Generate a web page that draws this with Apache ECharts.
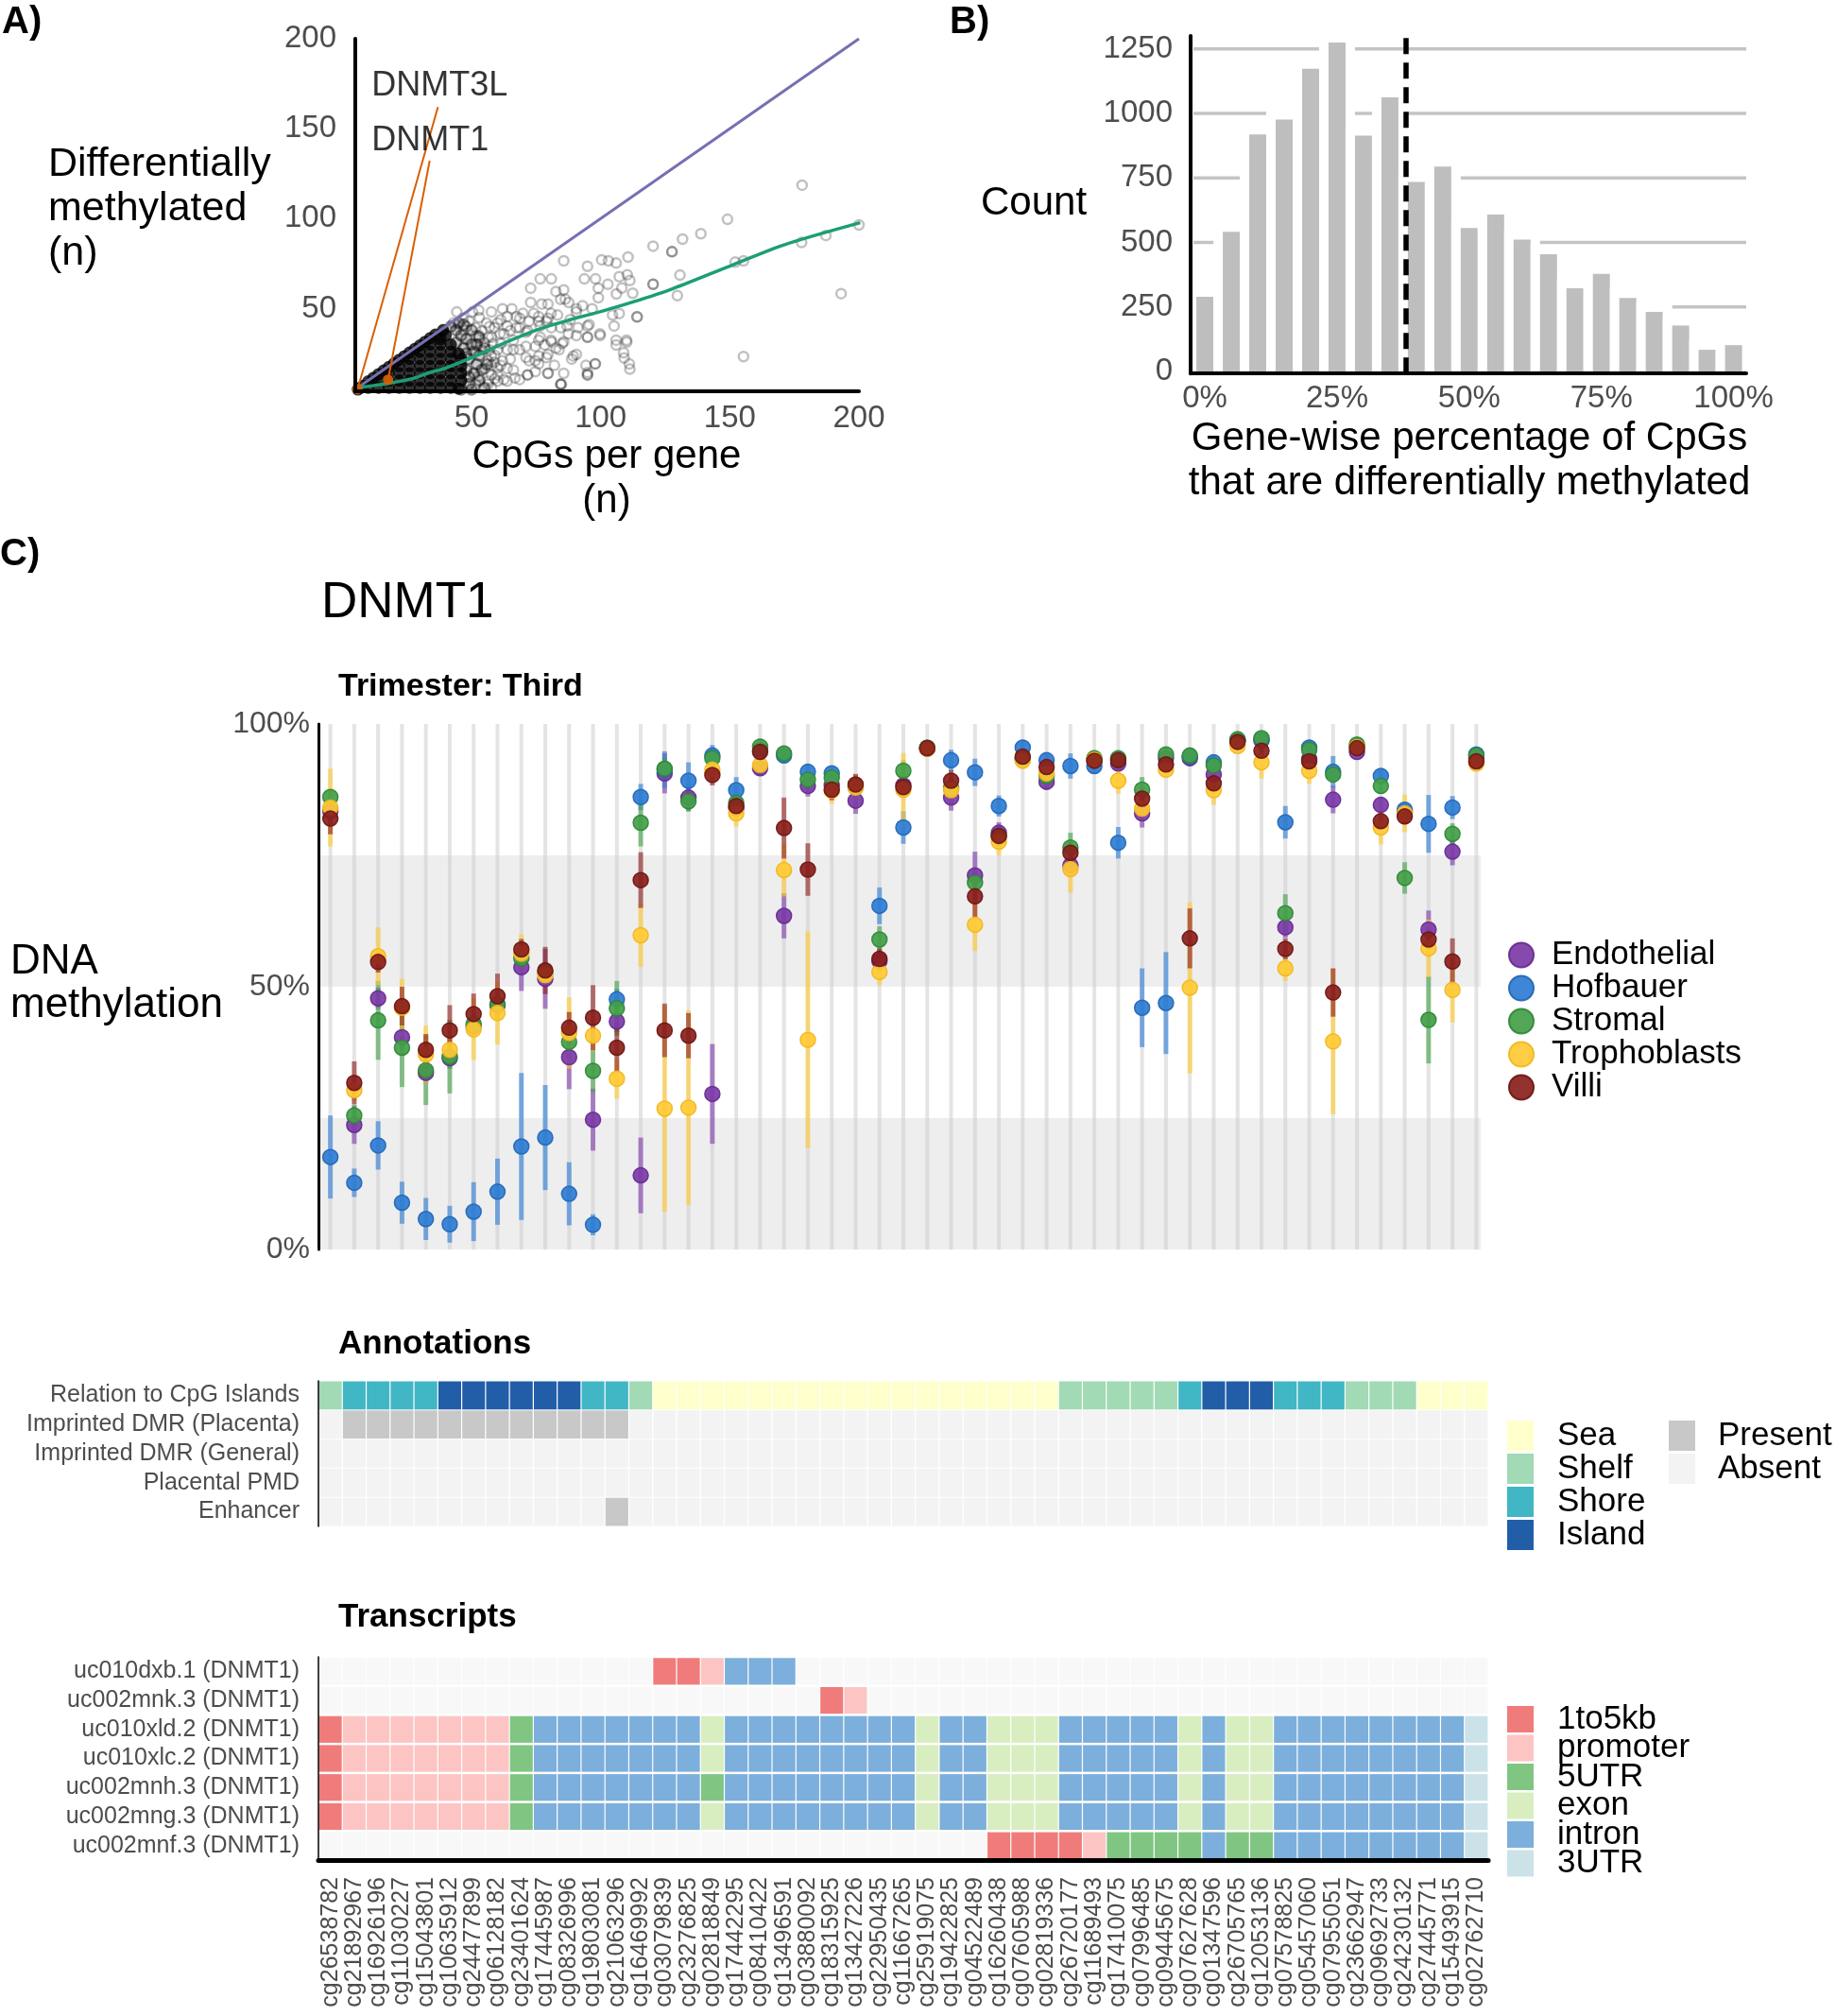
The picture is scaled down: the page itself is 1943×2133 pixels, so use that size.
<!DOCTYPE html>
<html><head><meta charset="utf-8">
<script src="https://cdn.jsdelivr.net/npm/echarts/dist/echarts.min.js"></script>
<style>html,body{margin:0;padding:0;background:#fff}#c{width:1943px;height:2133px}</style>
</head><body><div id="c"></div><script>
// ---------------- Panel A data ----------------
const cloudCore = [[6,5],[8,7],[12,11.5],[16,15.5],[20,19.5],[24,23.5],[28,27.5],[32,31.5],[36,35.5],[39,38],
[7,6],[10,6],[14,6],[18,6],[22,6],[26,6],[30,6],[34,6],[38,6],[42,6],[45,5.5],
[10,9.5],[14,10],[18,10],[22,10],[26,10],[30,10],[34,10],[38,10],[42,10],[46,10],
[14,13.5],[18,14],[22,14],[26,14],[30,14],[34,14],[38,14],[42,14],[46,14],
[18,17.5],[22,18],[26,18],[30,18],[34,18],[38,18],[42,18],[46,18],
[22,21.5],[26,22],[30,22],[34,22],[38,22],[42,22],[46,22],
[26,25.5],[30,26],[34,26],[38,26],[42,26],[45,25],
[30,29.5],[34,30],[38,30],[42,30],
[34,33.5],[38,33],[40,35]];
const cloudHalo = [[44,38],[46,35],[48,33],[50,30],[47,28],[51,26],[49,22],[53,24],[52,19],[48,16],[51,14],[54,16],[53,10],[49,8],[46,5],[50,5],[55,6],[45,42],[42,40],[47,41],[52,30],[55,28],[56,19],[48,25],[49,12],[44,31],[50,38],[53,34]];
const cloudSparse = [[85.7,76.5],[94.9,73.5],[100.4,77.1],
[76.6,66.5],[80.9,66.5],[93.7,66.5],[98,66.5],[99.1,61.3],
[72.9,61.3],[82.7,59.5],[85.7,60.4],[99.1,56],[86.3,55.2],
[72.9,53.4],[77.2,52.5],[79.6,52.5],[84.5,55.1],[87.6,53.4],[93,51.6],[96.7,49.9],[90.6,48.1],[90.6,49.9],
[52.8,49],[57.7,48.1],[62,49.9],[65.6,49.9],[63.8,45.5],[68.7,44.6],[72.3,42.9],[76,45.5],[79.6,44.6],[83.3,46.4],
[67.4,45.5],[69.9,47.3],[74.1,47.3],[76,42.9],[79,42.9],[80.8,47.3],[84.5,39.4],[88.2,43.8],[91.2,39.4],[94.9,40.3],
[99.7,35.9],[94.9,34.1],[87.5,35.9],[80.8,32.4],[78.4,29.8],[76.6,34.1],[74.7,28.9],[71.7,37.7],[68.6,39.4],[65,37.7],
[61.3,43.8],[58.9,39.4],[55.8,42],[52.8,35],[57.7,34.1],[62.5,35.9],[66.2,32.4],[68.6,27.1],[63.8,27.1],[60.1,27.1],
[65,21.9],[71.1,22.8],[74.7,21],[79,22.8],[82.7,28],[85.1,30.6],[90.6,24.5],[88.8,21.9],[94.3,18.4],[97.9,19.3],
[85.7,14],[79.6,14],[71.7,13.1],[66.2,15.8],[61.3,18.4],[56.4,21],[57.7,13.1],[62.5,10.5],[68.6,10.5],[74.7,14.9],
[84.5,7.9],[94.9,13.1],[52.8,12.3],[56.4,7.9],
[76.6,40.3],[80.9,39.4],[87,40.3],[95.5,41.1],[104.6,46.4],[105.2,40.3],
[60.1,42],[63.8,40.3],[67.4,39.4],[71.1,36.8],[76,32.4],[80.9,31.5],[85.7,31.5],[90.6,35],[94.9,34.1],[99.8,35],[106,32.4],[110,32.4],
[61.3,30.6],[66.2,27.1],[71.1,28.9],[76,23.6],[79.6,24.5],[83.9,27.1],[89.4,23.6],
[72.3,21],[76,19.2],[82.1,18.4],[97.9,19.2],[94.9,13.1],[108.9,25.4],[111.1,19.2],
[63.8,16.6],[66.8,11.4],[71.7,13.1],[79.6,14],[84.8,7.9],
[57.7,18.4],[60.1,13.1],[63.8,9.6],[56.5,9.6],
[43,42],[46.7,44.6],[49.1,42.9],[51.6,39.4],[54,37.6],[56.5,34.1],[58.3,30.6],[54,27.1],[57.7,23.6],[58.9,20.1],[55.2,16.6],[60.1,9.6],[51.6,7.9],[57.7,6.1],[50.4,48.1],[44.3,48.1],
[48,40],[52,35],[55,31],[57,27],[59,24],[60,17],[59,11],[62,21],[61,36],[57,40],[53,45],[47,38],
[178,118.6],[149.1,99.6],[138.8,91.6],[131.7,88.6],[127.6,81.6],[127.6,81.6],[120.3,84.7],[110.6,78.6],[106,75.3],[103,76.5],
[107.2,67.7],[110.3,68.8],[111.3,65.6],[102.8,63.5],[108.2,61.4],[106.1,58.1],[112.4,58.5],
[120.3,63.5],[120.3,63.5],[130.7,68.6],[129.7,57.2],[152.1,75.8],[155.3,76.5],[177.8,86.7],[187.2,90.6],[200,96.5],[193.1,58.3],
[155.3,23.3],[114.1,45.4],[114.1,45.4],[107.2,47.2],[106,29.7],[110.1,31.3],[109.1,22.5],[111.3,16.3],[94.9,14.4],[84.6,7.9]];
const identityLine = [[5,5],[200,200]];
const loessFit = [[5,5.8],[10,6.8],[17,8.2],[27,11],[34,14.5],[39.4,16.6],[51.6,23.6],[63.8,31.5],[76,38.5],[88.2,43.8],[100.4,48.5],[112.6,53.7],[127.8,61],[151.5,74.5],[171,85.4],[200.5,97.7]];
const highlightGenes = ['DNMT3L','DNMT1'];
const highlightPoints = [[5.9,5.2],[17.7,10.5]];
const highlightLabelAt = [[11.1,173.8],[11.1,143.4]];
const highlightSegEnd = [[37,162],[33.8,132.2]];

// ---------------- Panel B data ----------------
const histBins = [0,5,10,15,20,25,30,35,40,45,50,55,60,65,70,75,80,85,90,95,100];
const histCounts = [289,541,918,976,1173,1274,914,1062,734,794,556,608,511,454,322,378,285,231,178,84,102];
const histGridLevels = [250,500,750,1000,1250];
const dmThreshold = [38];

// ---------------- Panel C data ----------------
const cpgIds = ['cg26538782','cg21892967','cg16926196','cg11030227','cg15043801','cg10635912','cg24477899','cg06128182','cg23401624','cg17445987','cg08326996','cg19803081','cg21063296','cg16469992','cg03079839','cg23276825','cg02818849','cg17442295','cg08410422','cg13496591','cg03880092','cg18315925','cg13427226','cg22950435','cg11667265','cg25919075','cg19422825','cg04522489','cg16260438','cg07605988','cg02819336','cg26720177','cg11689493','cg17410075','cg07996485','cg09445675','cg07627628','cg01347596','cg26705765','cg12053136','cg07578825','cg05457060','cg07955051','cg23662947','cg09692733','cg24230132','cg27445771','cg15493915','cg02762710'];
const cellTypes = ['Endothelial','Hofbauer','Stromal','Trophoblasts','Villi'];
const endothelial = [83.4,23.7,47.8,40.4,33.6,36.4,42.5,46.5,53.7,51.5,36.6,24.7,43.4,14.1,90.6,86.0,29.6,84.0,91.6,63.5,88.2,88.3,85.4,54.9,88.3,95.3,86.0,71.2,79.3,93.5,89.0,73.1,93.0,92.5,83.0,93.5,93.5,90.4,96.8,96.9,61.3,93.3,85.6,94.7,84.6,83.3,60.9,75.7,93.5];
const endothelialSd = [2,3.6,2,2,2,2,2,2,4.5,5.7,6.1,5.9,2,7.2,3.8,2.5,9.5,2,1.5,4.3,2,2,2.5,2,2,1,2.5,4.5,2,1.5,1.5,2,1.5,1.5,2.7,1.5,1.5,1.5,1,1,2,1.5,2.6,1,1.5,1.5,3.6,2.6,1];
const hofbauer = [17.6,12.7,19.8,8.9,5.8,4.8,7.2,11.0,19.6,21.3,10.6,4.7,47.6,86.1,91.3,89.2,94.0,87.4,95.0,94.0,90.9,90.6,88.0,65.4,80.3,95.4,93.1,90.8,84.4,95.5,93.1,92.0,92.0,77.4,46.0,46.9,93.8,92.7,96.9,97.0,81.3,95.5,90.9,95.9,90.1,83.7,81.0,84.1,94.2];
const hofbauerSd = [7.9,2.7,4.6,4,4,3.5,5.6,6.3,14,10,6,2,2,2.5,3.5,3.5,2,2.5,1.5,1.5,1.5,1.5,1.5,3.5,3.1,1,2,2.6,2,1.5,1.5,2.4,1.5,3,7.5,9.7,1.5,1.5,1,1,3.1,1.5,3,1,1.5,1.5,5.5,2.2,1];
const stromal = [86.1,25.5,43.6,38.4,34.1,36.7,42.9,46.7,55.4,52.8,39.5,34.0,45.9,81.2,91.5,85.3,93.5,85.0,95.7,94.4,89.4,89.8,88.2,59.0,91.1,95.5,87.8,69.8,78.6,93.3,90.1,76.5,93.5,93.5,87.5,94.2,94.0,92.1,97.1,97.3,64.0,95.1,90.4,96.1,88.2,70.7,43.7,79.1,94.0];
const stromalSd = [1.5,2,7.5,7.5,6.6,7,2,2,2,2,3,4,5.2,4.5,2,2,2,2,1.5,1.5,1.5,1.5,2,2.5,2,1,2,2,2,1.5,1.5,2.8,1.5,1.5,2.4,1.5,1.5,1.5,1,1,3.6,1.5,1.5,1,1.5,3,8.3,2,1];
const trophoblasts = [84.1,30.3,55.8,46.0,37.1,38.0,41.9,45.0,56.3,52.2,41.2,40.7,32.5,59.8,26.8,27.0,91.3,83.0,92.2,72.2,39.9,87.3,87.9,52.8,87.5,95.3,87.4,61.8,77.6,93.0,90.6,72.4,93.2,89.2,83.9,91.3,49.8,87.4,95.8,92.7,53.5,91.1,39.6,95.6,80.3,83.0,57.3,49.4,92.5];
const trophoblastsSd = [7.4,2,5.5,5.5,5.5,3,5.9,6,3.7,2,6.8,3,3.8,6,19.6,18.5,2,2.5,1.5,5,20.6,2.5,2.5,2.5,7,1,2,5,2.6,1.5,2,4.5,1.5,2.5,2,1.5,16.3,2.8,1,3.1,2.4,2.5,13.9,1,3.2,3.6,5.5,6.2,1];
const villi = [82.0,31.7,54.7,46.3,38.0,41.7,44.8,48.2,57.1,53.1,42.2,44.1,38.4,70.3,41.7,40.7,90.3,84.4,94.7,80.2,72.3,87.5,88.5,55.3,88.0,95.4,89.2,67.2,78.7,93.8,91.8,75.5,93.0,93.1,85.8,92.3,59.2,88.7,96.6,94.9,57.2,92.9,48.9,95.4,81.5,82.4,59.0,54.8,92.9];
const villiSd = [3,4.1,2,3.7,3,4.8,3.9,4.3,2,4.5,3,6.2,4.6,5.3,5.1,4.3,2,2,1.5,5.8,5,2,2,2,2,1,2,4,2,1.5,1.5,2,1.5,1.5,2,1.5,5.7,1.5,1,1,2,1.5,4.6,1,1.5,1.5,2,4.4,1];
const methBands = [[0,25],[50,75]];

// ---------------- Annotation data ----------------
const annRows = ['Relation to CpG Islands','Imprinted DMR (Placenta)','Imprinted DMR (General)','Placental PMD','Enhancer'];
// a = Sea, h = Shelf, o = Shore, i = Island ; 1 = Present, 0 = Absent
const cpgRelation = 'h'+'oooo'+'iiiiii'+'oo'+'h'+'aaaaa'+'aaaaa'+'aaaaa'+'aa'+'hhhhh'+'o'+'iii'+'ooo'+'hhh'+'aaa';
const imprintedPlacenta = '0'+'111111111111'+'0'.repeat(36);
const imprintedGeneral = '0'.repeat(49);
const placentalPMD = '0'.repeat(49);
const enhancer = '0'.repeat(12)+'1'+'0'.repeat(36);

// ---------------- Transcript data ----------------
const txRows = ['uc010dxb.1 (DNMT1)','uc002mnk.3 (DNMT1)','uc010xld.2 (DNMT1)','uc010xlc.2 (DNMT1)','uc002mnh.3 (DNMT1)','uc002mng.3 (DNMT1)','uc002mnf.3 (DNMT1)'];
// K = 1to5kb, P = promoter, 5 = 5UTR, E = exon, I = intron, 3 = 3UTR, - = none
const tx_uc010dxb = '-'.repeat(14)+'KKPIII'+'-'.repeat(29);
const tx_uc002mnk = '-'.repeat(21)+'KP'+'-'.repeat(26);
const tx_uc010xld = 'K'+'PPPPPPP'+'5'+'IIIIIII'+'E'+'IIIIIIII'+'E'+'II'+'EEE'+'IIIII'+'E'+'I'+'EE'+'IIIIIIII'+'3';
const tx_uc010xlc = 'K'+'PPPPPPP'+'5'+'IIIIIII'+'E'+'IIIIIIII'+'E'+'II'+'EEE'+'IIIII'+'E'+'I'+'EE'+'IIIIIIII'+'3';
const tx_uc002mnh = 'K'+'PPPPPPP'+'5'+'IIIIIII'+'5'+'IIIIIIII'+'E'+'II'+'EEE'+'IIIII'+'E'+'I'+'EE'+'IIIIIIII'+'3';
const tx_uc002mng = 'K'+'PPPPPPP'+'5'+'IIIIIII'+'E'+'IIIIIIII'+'E'+'II'+'EEE'+'IIIII'+'E'+'I'+'EE'+'IIIIIIII'+'3';
const tx_uc002mnf = '-'.repeat(28)+'KKKK'+'P'+'5555'+'I'+'55'+'IIIIIIII'+'3';

// ---------------- styles ----------------
const FONT = '"Liberation Sans", Arial, Helvetica, sans-serif';
const GREY = '#4D4D4D';
const methColors = {Endothelial:'#7C3BA8', Hofbauer:'#2F7DD3', Stromal:'#43A048', Trophoblasts:'#FFCA35', Villi:'#8A1F1C'};
const methBorder = {Endothelial:'#652B8E', Hofbauer:'#2266B5', Stromal:'#2F8737', Trophoblasts:'#F2B61C', Villi:'#6E1612'};
const annColors = {a:'#FFFFCC', h:'#A1DAB4', o:'#41B6C4', i:'#225EA8', '1':'#C8C8C8', '0':'#F3F3F4'};
const txColors = {K:'#EF7C7B', P:'#FCC5C4', '5':'#80C682', E:'#D8EEC0', I:'#7CAFDB', '3':'#CBE2E9', '-':'#F8F8F8'};

const meanMap = {Endothelial:endothelial, Hofbauer:hofbauer, Stromal:stromal, Trophoblasts:trophoblasts, Villi:villi};
const sdMap = {Endothelial:endothelialSd, Hofbauer:hofbauerSd, Stromal:stromalSd, Trophoblasts:trophoblastsSd, Villi:villiSd};

function cellSeries(gIdx, rowStrings, colorMap, gapY) {
  const data = [], cols = [];
  rowStrings.forEach((s, r) => { for (let i = 0; i < s.length; i++) { data.push([i, r]); cols.push(colorMap[s[i]]); } });
  return {
    type:'custom', xAxisIndex:gIdx, yAxisIndex:gIdx, silent:true, z:2,
    encode:{x:0, y:1}, data: data,
    renderItem: function (params, api) {
      const c = api.coord([api.value(0), api.value(1)]);
      const s = api.size([1, 1]);
      return {type:'rect', shape:{x:c[0]-s[0]/2+0.6, y:c[1]-s[1]/2+gapY/2, width:s[0]-1.2, height:s[1]-gapY},
        style:{fill: cols[params.dataIndex]}};
    }
  };
}

const series = [];
// ---- Panel A ----
series.push({type:'scatter', xAxisIndex:0, yAxisIndex:0, data:cloudCore, symbolSize:13, silent:true, z:2,
  itemStyle:{color:'#000'}});
series.push({type:'scatter', xAxisIndex:0, yAxisIndex:0, data:cloudHalo, symbolSize:11, silent:true, z:2,
  itemStyle:{color:'rgba(0,0,0,0.25)', borderColor:'rgba(0,0,0,0.5)', borderWidth:2.5}});
series.push({type:'scatter', xAxisIndex:0, yAxisIndex:0, data:cloudSparse, symbolSize:10, silent:true, z:2,
  itemStyle:{color:'rgba(0,0,0,0)', borderColor:'rgba(0,0,0,0.3)', borderWidth:2.5}});
series.push({type:'line', xAxisIndex:0, yAxisIndex:0, data:identityLine, symbol:'none', silent:true, z:3,
  lineStyle:{color:'#7570B3', width:3}});
series.push({type:'line', xAxisIndex:0, yAxisIndex:0, data:loessFit, symbol:'none', smooth:0.3, silent:true, z:3,
  lineStyle:{color:'#1B9E77', width:3.5}});
highlightGenes.forEach((g, k) => {
  series.push({type:'line', xAxisIndex:0, yAxisIndex:0, data:[highlightPoints[k], highlightSegEnd[k]], symbol:'none', silent:true, z:4,
    lineStyle:{color:'#D95F02', width:2}});
});
series.push({type:'scatter', xAxisIndex:0, yAxisIndex:0, data:highlightPoints, symbolSize:11, silent:true, z:5,
  itemStyle:{color:'#D95F02', opacity:0.9}});
series.push({type:'scatter', xAxisIndex:0, yAxisIndex:0, silent:true, z:6, symbolSize:1,
  data: highlightLabelAt.map((p, k) => ({value:p, name:highlightGenes[k]})),
  itemStyle:{color:'rgba(0,0,0,0)'},
  label:{show:true, position:'right', distance:0, formatter:'{b}', fontSize:36, color:'#000', fontFamily:FONT}});

// ---- Panel B ----
series.push({type:'custom', xAxisIndex:1, yAxisIndex:1, silent:true, z:1,
  data: histGridLevels.map(v => [0, v]), encode:{x:0, y:1},
  renderItem: function (params, api) {
    const y = api.coord([0, api.value(1)])[1];
    const cs = params.coordSys;
    return {type:'line', shape:{x1:cs.x+3, y1:y, x2:cs.x+cs.width, y2:y}, style:{stroke:'#C4C4C4', lineWidth:3.5}};
  },
  markLine:{silent:true, symbol:'none', label:{show:false}, data: dmThreshold.map(v => ({xAxis:v})),
    lineStyle:{color:'#000', width:5.5, type:[17,9]}, z:5}});
// histogram bars: grey bar with white outline (as ggplot colour="white")
series.push({type:'custom', xAxisIndex:1, yAxisIndex:1, silent:true, z:2,
  data: histBins.map((b, i) => [b, histCounts[i]]), encode:{x:0, y:1},
  renderItem: function (params, api) {
    const top = api.coord([api.value(0), api.value(1)]);
    const base = api.coord([api.value(0), 0]);
    const halfGrey = 9, halo = 10;
    return {type:'group', children:[
      {type:'rect', shape:{x:top[0]-halfGrey-halo, y:top[1]-halo, width:2*(halfGrey+halo), height:base[1]-top[1]+halo}, style:{fill:'#FFFFFF'}},
      {type:'rect', shape:{x:top[0]-halfGrey, y:top[1], width:2*halfGrey, height:base[1]-top[1]}, style:{fill:'#BEBEBE'}}
    ]};
  }});

// ---- Panel C ----
series.push({type:'custom', xAxisIndex:2, yAxisIndex:2, silent:true, z:0,
  data: methBands.map(b => [0, b[0], b[1]]), encode:{x:0, y:[1,2]},
  renderItem: function (params, api) {
    const lo = api.coord([0, api.value(1)])[1];
    const hi = api.coord([0, api.value(2)])[1];
    const cs = params.coordSys;
    return {type:'rect', shape:{x:cs.x, y:hi, width:cs.width-8, height:lo-hi}, style:{fill:'#EEEEEF'}};
  }});
series.push({type:'custom', xAxisIndex:2, yAxisIndex:2, silent:true, z:1,
  data: cpgIds.map((id, i) => [i, 0, 100]), encode:{x:0, y:[1,2]},
  renderItem: function (params, api) {
    const a = api.coord([api.value(0), api.value(1)]);
    const b = api.coord([api.value(0), api.value(2)]);
    return {type:'line', shape:{x1:a[0], y1:a[1], x2:b[0], y2:b[1]}, style:{stroke:'rgba(205,205,208,0.55)', lineWidth:4}};
  }});
cellTypes.forEach(ct => {
  const m = meanMap[ct], sd = sdMap[ct];
  series.push({type:'custom', name:'err-'+ct, xAxisIndex:2, yAxisIndex:2, silent:true, z:3,
    data: m.map((v, i) => [i, Math.max(0, v - sd[i]), Math.min(100, v + sd[i])]), encode:{x:0, y:[1,2]},
    renderItem: function (params, api) {
      const a = api.coord([api.value(0), api.value(1)]);
      const b = api.coord([api.value(0), api.value(2)]);
      return {type:'line', shape:{x1:a[0], y1:a[1], x2:b[0], y2:b[1]}, style:{stroke:methColors[ct], lineWidth:5, opacity:0.62}};
    }});
});
cellTypes.forEach(ct => {
  series.push({type:'scatter', name:ct, xAxisIndex:2, yAxisIndex:2, z:5, silent:true, symbolSize:16,
    data: meanMap[ct].map((v, i) => [i, v]),
    itemStyle:{color:methColors[ct], borderColor:methBorder[ct], borderWidth:1.5, opacity:0.92}});
});

// ---- Annotations / Transcripts ----
series.push(cellSeries(3, [cpgRelation, imprintedPlacenta, imprintedGeneral, placentalPMD, enhancer], annColors, 1));
series.push(cellSeries(4, [tx_uc010dxb, tx_uc002mnk, tx_uc010xld, tx_uc010xlc, tx_uc002mnh, tx_uc002mng, tx_uc002mnf], txColors, 2.5));

// ---------------- legends / texts ----------------
const annLegend = [['Sea','a'],['Shelf','h'],['Shore','o'],['Island','i']];
const presLegend = [['Present','1'],['Absent','0']];
const txLegend = [['1to5kb','K'],['promoter','P'],['5UTR','5'],['exon','E'],['intron','I'],['3UTR','3']];

function txt(x, y, text, size, opts) {
  opts = opts || {};
  return {type:'text', x:x, y:y, silent:true, z:10, style:{text:text, font:(opts.bold?'bold ':'')+size+'px '+FONT,
    fill:opts.fill||'#000', align:opts.align||'left', verticalAlign:opts.va||'middle', lineHeight:opts.lh||size}};
}
const graphics = [
  txt(2, 24, 'A)', 40, {bold:true}),
  txt(1005, 24, 'B)', 40, {bold:true}),
  txt(0, 587, 'C)', 40, {bold:true}),
  txt(51, 221, 'Differentially\nmethylated\n(n)', 43, {lh:47}),
  txt(642, 507, 'CpGs per gene\n(n)', 42, {align:'center', lh:47}),
  txt(1038, 215, 'Count', 42),
  txt(1555, 488, 'Gene-wise percentage of CpGs\nthat are differentially methylated', 42, {align:'center', lh:47}),
  txt(340, 638, 'DNMT1', 53),
  txt(358, 727, 'Trimester: Third', 34, {bold:true}),
  txt(11, 1041, 'DNA\nmethylation', 44, {lh:46}),
  txt(358, 1422, 'Annotations', 35, {bold:true}),
  txt(358, 1711, 'Transcripts', 35, {bold:true})
];
annLegend.forEach((it, k) => {
  const y = 1503 + k*35;
  graphics.push({type:'rect', silent:true, shape:{x:1595, y:y, width:28, height:32}, style:{fill:annColors[it[1]]}});
  graphics.push(txt(1648, y+16, it[0], 35));
});
presLegend.forEach((it, k) => {
  const y = 1503 + k*35;
  graphics.push({type:'rect', silent:true, shape:{x:1766, y:y, width:28, height:32}, style:{fill:annColors[it[1]]}});
  graphics.push(txt(1818, y+16, it[0], 35));
});
txLegend.forEach((it, k) => {
  const y = 1805 + k*30.5;
  graphics.push({type:'rect', silent:true, shape:{x:1595, y:y, width:28, height:28}, style:{fill:txColors[it[1]]}});
  graphics.push(txt(1648, y+14, it[0], 35));
});

const axisLbl = (size, extra) => Object.assign({fontSize:size, color:GREY, fontFamily:FONT}, extra||{});
const plain = v => String(v);

const option = {
  animation:false,
  backgroundColor:'#fff',
  textStyle:{fontFamily:FONT},
  grid:[
    {left:376, top:41, width:533, height:373},
    {left:1260, top:38, width:588, height:357.2},
    {left:337, top:766, width:1238, height:556},
    {left:337, top:1461, width:1238, height:154},
    {left:337, top:1753, width:1238, height:215}
  ],
  xAxis:[
    {type:'value', gridIndex:0, min:5, max:200, z:10,
      axisLine:{onZero:false, lineStyle:{color:'#000', width:4}}, axisTick:{show:false}, splitLine:{show:false},
      axisLabel:axisLbl(33, {customValues:[50,100,150,200], margin:12, formatter:plain})},
    {type:'value', gridIndex:1, min:-2.7, max:102.4, z:10,
      axisLine:{onZero:false, lineStyle:{color:'#000', width:4}}, axisTick:{show:false}, splitLine:{show:false},
      axisLabel:axisLbl(33, {customValues:[0,25,50,75,100], formatter:v => v + '%', margin:10})},
    {type:'category', gridIndex:2, data:cpgIds, show:false, boundaryGap:true},
    {type:'category', gridIndex:3, data:cpgIds, show:false, boundaryGap:true},
    {type:'category', gridIndex:4, data:cpgIds, boundaryGap:true, z:10,
      axisLine:{lineStyle:{color:'#000', width:5}}, axisTick:{show:false},
      axisLabel:axisLbl(25, {rotate:90, interval:0, margin:18})}
  ],
  yAxis:[
    {type:'value', gridIndex:0, min:4, max:200, z:10,
      axisLine:{show:true, onZero:false, lineStyle:{color:'#000', width:4}}, axisTick:{show:false}, splitLine:{show:false},
      axisLabel:axisLbl(33, {customValues:[50,100,150,200], margin:20, formatter:plain})},
    {type:'value', gridIndex:1, min:-8, max:1300, z:10,
      axisLine:{show:true, onZero:false, lineStyle:{color:'#000', width:4}}, axisTick:{show:false}, splitLine:{show:false},
      axisLabel:axisLbl(33, {customValues:[0,250,500,750,1000,1250], margin:19, formatter:plain})},
    {type:'value', gridIndex:2, min:0, max:100, interval:50, z:10,
      axisLine:{show:true, onZero:false, lineStyle:{color:'#000', width:3}}, axisTick:{show:false}, splitLine:{show:false},
      axisLabel:axisLbl(32, {formatter:v => v + '%', margin:9})},
    {type:'category', gridIndex:3, data:annRows, inverse:true, z:10,
      axisLine:{show:true, onZero:false, lineStyle:{color:'#000', width:1.5}}, axisTick:{show:false},
      axisLabel:axisLbl(25, {margin:20, interval:0})},
    {type:'category', gridIndex:4, data:txRows, inverse:true, z:10,
      axisLine:{show:true, onZero:false, lineStyle:{color:'#000', width:1.5}}, axisTick:{show:false},
      axisLabel:axisLbl(25, {margin:20, interval:0})}
  ],
  legend:{data:cellTypes, orient:'vertical', left:1591, top:988, itemWidth:26, itemHeight:26, itemGap:0,
    icon:'circle', selectedMode:false,
    textStyle:{fontSize:35, color:'#000', fontFamily:FONT, lineHeight:34, padding:[0,0,0,14]}},
  graphic: graphics,
  series: series
};

const chart = echarts.init(document.getElementById('c'), null, {renderer:'canvas', width:1943, height:2133});
chart.setOption(option);
</script></body></html>
